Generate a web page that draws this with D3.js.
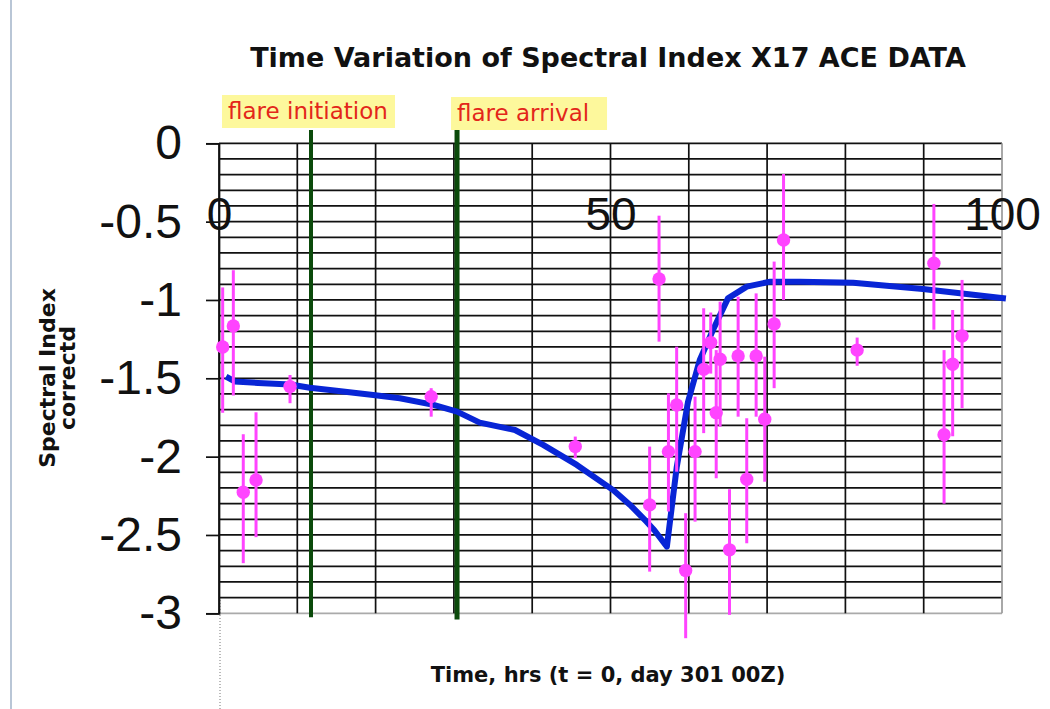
<!DOCTYPE html>
<html>
<head>
<meta charset="utf-8">
<script src="https://cdn.jsdelivr.net/npm/d3@7"></script>
<style>
  html, body { margin: 0; padding: 0; background: #fff; }
  svg { display: block; }
</style>
</head>
<body>
<svg id="chart" width="1050" height="709"></svg>
<script>
// ---- data ----
const titleText = "Time Variation of Spectral Index X17 ACE DATA";
const xTitle = "Time, hrs (t = 0, day 301 00Z)";
const yTitleLines = ["Spectral Index", "correctd"];
const yTickValues = [0, -0.5, -1, -1.5, -2, -2.5, -3];
const xTickValues = [0, 50, 100];

// model curve
const modelT = [0.9, 2.0, 5, 9.1, 11.6, 15, 19.7, 23.1, 27.4, 30.4, 33.3, 37.8, 41.4, 45.7, 50.3, 52.5, 54.6, 55.6, 57.2, 58.45, 59.9, 61.4, 63.1, 65.0, 67.4, 70.4, 74.2, 81.0, 89.9, 100.5];
const modelV = [-1.49, -1.52, -1.53, -1.54, -1.56, -1.58, -1.606, -1.627, -1.67, -1.713, -1.783, -1.83, -1.925, -2.053, -2.212, -2.308, -2.415, -2.47, -2.574, -2.07, -1.65, -1.383, -1.19, -0.99, -0.915, -0.883, -0.883, -0.89, -0.93, -0.99];

// observations with error bars
const obsT  = [0.47, 1.83, 3.1, 4.73, 9.07, 27.1, 45.5, 55.0, 56.2, 57.4, 58.45, 59.6, 60.8, 61.9, 62.8, 63.5, 64.0, 65.2, 66.3, 67.4, 68.6, 69.7, 70.9, 72.1, 81.5, 91.3, 92.6, 93.7, 94.9];
const obsV  = [-1.30, -1.166, -2.227, -2.149, -1.553, -1.617, -1.936, -2.308, -0.866, -1.968, -1.67, -2.727, -1.968, -1.443, -1.272, -1.72, -1.378, -2.595, -1.357, -2.144, -1.357, -1.761, -1.153, -0.617, -1.32, -0.766, -1.86, -1.41, -1.23];
const obsHi = [-0.92, -0.81, -1.857, -1.717, -1.479, -1.563, -1.872, -1.936, -0.462, -1.596, -1.298, -2.361, -1.617, -1.053, -1.08, -1.32, -1.011, -2.208, -0.979, -1.755, -0.958, -1.362, -0.755, -0.196, -1.24, -0.387, -1.32, -1.064, -0.872];
const obsLo = [-1.72, -1.61, -2.68, -2.514, -1.659, -1.745, -2.01, -2.734, -1.266, -2.35, -2.096, -3.159, -2.415, -1.85, -1.47, -2.138, -1.809, -3.01, -1.745, -2.553, -1.745, -2.16, -1.563, -1.0, -1.42, -1.19, -2.30, -1.87, -1.69];

// event markers
const flareT = [11.75, 30.4];
const flareLabels = ["flare initiation", "flare arrival"];

// ---- drawing ----
const svg = d3.select("#chart");
const x = d3.scaleLinear().domain([0, 100]).range([219, 1002]);
const y = d3.scaleLinear().domain([0, -3]).range([143.3, 613.3]);

// left page border
svg.append("line").attr("x1", 11).attr("x2", 11).attr("y1", 0).attr("y2", 709)
  .attr("stroke", "#b9c6d6").attr("stroke-width", 2);

// dotted line below axis
svg.append("line").attr("x1", 220).attr("x2", 220).attr("y1", 600).attr("y2", 709)
  .attr("stroke", "#777").attr("stroke-width", 1).attr("stroke-dasharray", "1,2");

// horizontal gridlines
const hVals = d3.range(0, 31).map(i => -i / 10);
svg.append("g").selectAll("line").data(hVals).join("line")
  .attr("x1", x(0)).attr("x2", x(100))
  .attr("y1", d => y(d)).attr("y2", d => y(d))
  .attr("stroke", (d, i) => i === 30 ? "#aaa" : "#111")
  .attr("stroke-width", 1.7);

// vertical gridlines
const vVals = d3.range(0, 101, 10);
svg.append("g").selectAll("line").data(vVals).join("line")
  .attr("x1", d => x(d)).attr("x2", d => x(d))
  .attr("y1", y(0)).attr("y2", y(-3))
  .attr("stroke", d => d === 100 ? "#999" : "#111")
  .attr("stroke-width", 1.7);

// y axis
const yAxis = svg.append("g").attr("transform", `translate(${x(0)},0)`)
  .call(d3.axisLeft(y).tickValues(yTickValues).tickSize(13).tickPadding(24).tickFormat(d => String(d)));
yAxis.select(".domain").attr("stroke", "#111").attr("stroke-width", 1.7);
yAxis.selectAll(".tick line").attr("stroke", "#111").attr("stroke-width", 1.7);
yAxis.selectAll("text").attr("font-family", "Liberation Sans, Arial, sans-serif").attr("font-size", 48).attr("fill", "#111");

// x tick labels (drawn inside plot)
const xAxis = svg.append("g").attr("transform", `translate(0,197)`)
  .call(d3.axisBottom(x).tickValues(xTickValues).tickSize(0).tickPadding(0).tickFormat(d => String(d)));
xAxis.select(".domain").remove();
xAxis.selectAll("text").attr("font-family", "Liberation Sans, Arial, sans-serif").attr("font-size", 46).attr("fill", "#111");

// flare lines
svg.append("g").selectAll("line").data(flareT).join("line")
  .attr("x1", d => x(d)).attr("x2", d => x(d))
  .attr("y1", y(0.085)).attr("y2", (d, i) => i === 0 ? y(-3.025) : y(-3.04))
  .attr("stroke", "#0b4a0b").attr("stroke-width", (d, i) => i === 0 ? 4 : 5);

// flare labels
const lbl = svg.append("g").selectAll("g").data(flareT).join("g");
const boxes = [{dx: -89, y: 95, w: 173}, {dx: -6, y: 97, w: 156}];
lbl.append("rect")
  .attr("x", (d, i) => x(d) + boxes[i].dx).attr("y", (d, i) => boxes[i].y)
  .attr("width", (d, i) => boxes[i].w).attr("height", 33)
  .attr("fill", "#fdf89c");
lbl.append("text")
  .attr("x", (d, i) => x(d) + boxes[i].dx + 6).attr("y", (d, i) => boxes[i].y + 24)
  .attr("font-family", "DejaVu Sans, sans-serif").attr("font-size", 23)
  .attr("fill", "#e3261a")
  .text((d, i) => flareLabels[i]);

// model curve
const model = modelT.map((t, i) => [t, modelV[i]]);
svg.append("path").datum(model)
  .attr("d", d3.line().x(d => x(d[0])).y(d => y(d[1])))
  .attr("fill", "none").attr("stroke", "#0825d6").attr("stroke-width", 6)
  .attr("stroke-linejoin", "round");

// observations
const obs = obsT.map((t, i) => ({t, v: obsV[i], hi: obsHi[i], lo: obsLo[i]}));
const og = svg.append("g");
og.selectAll("line").data(obs).join("line")
  .attr("x1", d => x(d.t)).attr("x2", d => x(d.t))
  .attr("y1", d => y(d.hi)).attr("y2", d => y(d.lo))
  .attr("stroke", "#ff44ff").attr("stroke-width", 3);
og.selectAll("circle").data(obs).join("circle")
  .attr("cx", d => x(d.t)).attr("cy", d => y(d.v)).attr("r", 6.7)
  .attr("fill", "#ff44ff");

// titles
svg.append("text").attr("x", 608).attr("y", 67).attr("text-anchor", "middle")
  .attr("font-family", "DejaVu Sans, sans-serif").attr("font-weight", "bold").attr("font-size", 27)
  .attr("fill", "#111").text(titleText);

svg.append("text").attr("x", 608).attr("y", 682).attr("text-anchor", "middle")
  .attr("font-family", "DejaVu Sans, sans-serif").attr("font-weight", "bold").attr("font-size", 21)
  .attr("fill", "#111").text(xTitle);

const yt = svg.append("text").attr("transform", "translate(55,378) rotate(-90)")
  .attr("text-anchor", "middle")
  .attr("font-family", "DejaVu Sans, sans-serif").attr("font-weight", "bold").attr("font-size", 22)
  .attr("fill", "#111");
yt.selectAll("tspan").data(yTitleLines).join("tspan")
  .attr("x", 0).attr("dy", (d, i) => i === 0 ? 0 : 20).text(d => d);
</script>
</body>
</html>
